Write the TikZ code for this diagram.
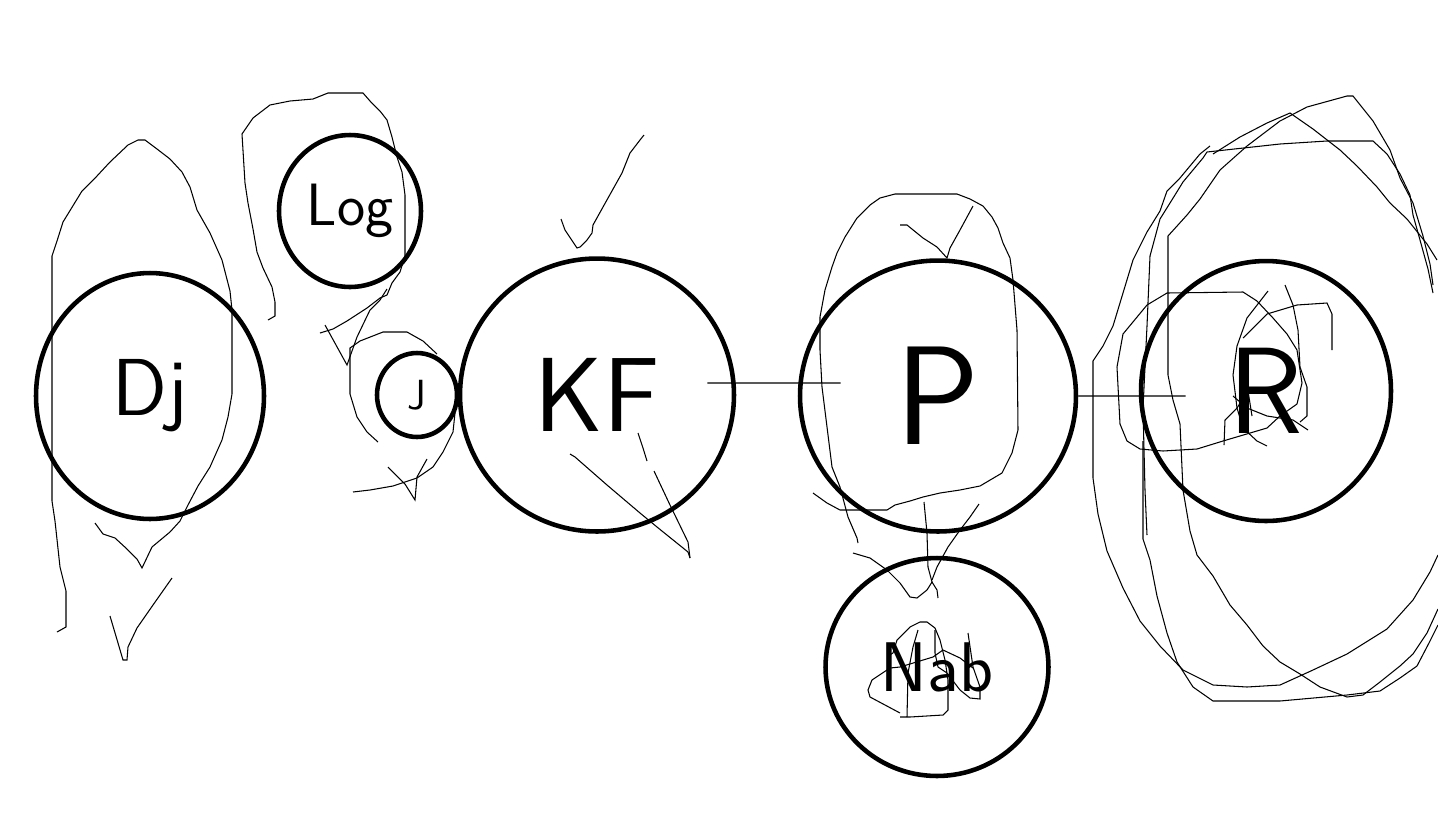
\documentclass[tikz,border=0pt]{standalone}
\usepackage{tikz}
\usetikzlibrary{shapes.geometric}

\newcommand{\hand}[1]{\fontsize{#1}{#1}\selectfont\sffamily}

\begin{document}
\begin{tikzpicture}[x=0.02cm,y=-0.02cm,
    ring/.style={draw,ellipse,line width=2.6pt,inner sep=0pt},
    scrib/.style={line width=0.6pt},
    link/.style={line width=0.7pt}]
  \useasboundingbox (0,0) rectangle (1438,816);

  \node[ring,minimum width=4.56cm,minimum height=4.92cm] (dj)  at (150,396) {\hand{46}Dj};
  \node[ring,minimum width=2.84cm,minimum height=3.04cm] (log) at (350,211) {\hand{34}Log};
  \node[ring,minimum width=1.60cm,minimum height=1.68cm] (jay) at (417,395) {\hand{24}J};
  \node[ring,minimum width=5.48cm,minimum height=5.46cm] (kf)  at (597,395) {\hand{60}KF};
  \node[ring,minimum width=5.52cm,minimum height=5.42cm] (p)   at (938,396) {\hand{80}P};
  \node[ring,minimum width=5.00cm,minimum height=5.20cm] (r)   at (1266,391) {\hand{70}R};
  \node[ring,minimum width=4.46cm,minimum height=4.36cm] (nab) at (937,667) {\hand{40}Nab};

  \draw[link] ([xshift=-0.58cm,yshift=0.24cm]kf.east) -- ([xshift=0.86cm,yshift=0.26cm]p.west);
  \draw[link] (p.east) -- ([xshift=0.94cm,yshift=-0.1cm]r.west);

  \draw[scrib] (57,632)--(66,627)--(66,591)--(60,567)--(55,521)--(52,501)--(52,256)--(57,241)--(63,222)
    --(82,191)--(97,176)--(110,162)--(128,145)--(138,140)--(145,140)--(157,149)--(170,159)--(182,172)
    --(190,187)--(197,210)--(210,233)--(222,260)--(230,291)--(232,310)--(232,394)--(228,417)--(222,440)
    --(210,467)--(198,486)--(188,505)--(180,521)--(170,532)--(152,547)--(142,568)--(137,559)--(127,549)
    --(115,538)--(103,534)--(95,523);
  \draw[scrib] (110,616)--(118,643)--(123,660)--(127,660)--(128,647)--(137,628)--(153,605)--(172,578);

  \draw[scrib] (268,320)--(275,316)--(275,302)--(272,287)--(263,268)--(257,252)--(253,229)--(248,203)
    --(245,183)--(242,134)--(253,118)--(270,105)--(290,101)--(313,99)--(328,93)--(363,93)--(370,101)
    --(380,111)--(387,120)--(392,137)--(397,157)--(402,172)--(405,195)--(405,256)--(400,272)--(392,283)
    --(387,295)--(380,298)--(367,308)--(347,321)--(333,329)--(320,333);
  \draw[scrib] (325,325)--(347,365)--(357,337)--(370,310)--(380,300)--(387,289);
  \draw[scrib] (437,354)--(423,341)--(407,332)--(383,332)--(360,341)--(350,348)--(350,394)--(357,417)
    --(367,432)--(378,442);
  \draw[scrib] (353,492)--(370,490)--(393,486)--(417,478)--(433,467)--(443,452)--(453,432)--(455,413);
  \draw[scrib] (388,467)--(405,484)--(415,500)--(417,477)--(427,459);

  \draw[scrib] (644,135)--(640,140)--(630,153)--(622,173)--(603,207)--(593,225)--(592,233)--(587,240)
    --(580,247)--(577,248)--(573,242)--(565,230)--(561,219);
  \draw[scrib] (638,433)--(643,448)--(647,461);
  \draw[scrib] (570,454)--(575,457)--(607,485)--(640,513)--(657,527)--(688,552)--(690,558);
  \draw[scrib] (654,471)--(670,505)--(688,542)--(690,558);

  \draw[scrib] (858,543)--(857,538)--(848,517)--(840,487)--(832,467)--(827,427)--(822,387)--(820,350)
    --(820,317)--(825,290)--(832,267)--(837,253)--(845,237)--(857,218)--(870,205)--(880,198)--(895,194)
    --(957,194)--(970,199)--(983,206)--(992,217)--(998,228)--(1003,243)--(1010,258)--(1013,280)
    --(1017,330)--(1018,430)--(1012,453)--(1002,473)--(980,486)--(960,490)--(940,493)--(923,497)
    --(910,501)--(895,505)--(887,510)--(840,510)--(827,503)--(813,493);
  \draw[scrib] (900,225)--(907,225)--(923,238)--(937,247)--(947,258)--(950,248)--(960,230)--(973,206);
  \draw[scrib] (853,553)--(870,558)--(887,570)--(900,583)--(910,597)--(917,598)--(927,590)--(932,582)
    --(937,590)--(938,598);
  \draw[scrib] (924,502)--(927,533)--(928,567)--(932,582);
  \draw[scrib] (979,504)--(970,517)--(960,530)--(948,547)--(937,567)--(932,580);

  \draw[scrib] (888,656)--(893,653)--(897,640)--(910,627)--(920,622)--(927,622)--(935,628)--(940,640)
    --(945,660)--(948,680)--(948,710)--(943,715)--(910,717)--(900,717);
  \draw[scrib] (907,717)--(908,673)--(913,647)--(918,630);
  \draw[scrib] (900,713)--(870,697)--(868,690)--(872,680)--(890,668)--(900,667)--(933,657)--(943,650)
    --(960,658)--(973,668);
  \draw[scrib] (968,633)--(973,667)--(980,687)--(980,699)--(970,698)--(960,690)--(947,673)--(938,667)
    --(935,653)--(935,630);

  \draw[scrib] (1210,146)--(1200,154)--(1190,166)--(1180,178)--(1167,191)--(1160,211)--(1147,232)
    --(1133,260)--(1123,293)--(1113,326)--(1103,346)--(1093,361)--(1093,478)--(1098,514)--(1107,551)
    --(1123,588)--(1140,621)--(1160,646)--(1183,670)--(1213,685)--(1247,687)--(1280,685)--(1313,670)
    --(1347,654)--(1387,629)--(1413,600)--(1430,572)--(1438,555);
  \draw[scrib] (1147,535)--(1145,490)--(1143,408)--(1147,326)--(1150,256)--(1160,219)--(1170,203)
    --(1183,182)--(1203,158)--(1207,152)--(1280,144)--(1327,141)--(1373,141)--(1387,154)--(1400,174)
    --(1410,195)--(1413,215)--(1420,240)--(1428,269)--(1433,293);
  \draw[scrib] (1143,441)--(1143,539)--(1150,560)--(1157,596)--(1167,633)--(1177,662)--(1193,687)
    --(1213,701)--(1280,701)--(1347,695)--(1380,691)--(1400,678)--(1417,666)--(1430,641)--(1438,625);
  \draw[scrib] (1433,285)--(1430,264)--(1423,236)--(1413,203)--(1400,178)--(1390,150)--(1373,121)
    --(1353,96)--(1347,96)--(1307,107)--(1280,121)--(1247,146)--(1220,170)--(1200,199)--(1187,215)
    --(1168,236)--(1168,375)--(1173,400)--(1180,424)--(1183,490)--(1190,531)--(1197,555)--(1213,576)
    --(1230,605)--(1247,625)--(1263,646)--(1280,662)--(1300,674)--(1320,687)--(1347,697)--(1363,695)
    --(1380,682)--(1400,666)--(1413,654)--(1427,633)--(1438,609);
  \draw[scrib] (1213,154)--(1240,137)--(1267,123)--(1290,113)--(1313,129)--(1340,150)--(1357,166)
    --(1377,187)--(1390,203)--(1407,219)--(1427,244)--(1437,260);
  \draw[scrib] (1140,449)--(1127,441)--(1120,424)--(1117,367)--(1123,334)--(1147,305)--(1167,293)
    --(1243,292)--(1257,301)--(1273,318)--(1287,334)--(1297,350)--(1302,383)--(1297,404)--(1280,416)
    --(1267,428)--(1223,441)--(1197,449)--(1163,451)--(1140,449);
  \draw[scrib] (1268,291)--(1247,318)--(1237,346)--(1233,375)--(1237,408)--(1243,428)--(1257,441)--(1267,446);
  \draw[scrib] (1285,285)--(1293,305)--(1298,330)--(1300,367)--(1307,387)--(1307,416)--(1300,422);
  \draw[scrib] (1243,338)--(1267,314)--(1297,305)--(1327,303)--(1332,314)--(1332,350);
  \draw[scrib] (1224,445)--(1225,420)--(1237,408)--(1248,391)--(1252,416);
  \draw[scrib] (1233,396)--(1247,408)--(1267,416)--(1293,420)--(1308,430);
\end{tikzpicture}
\end{document}
